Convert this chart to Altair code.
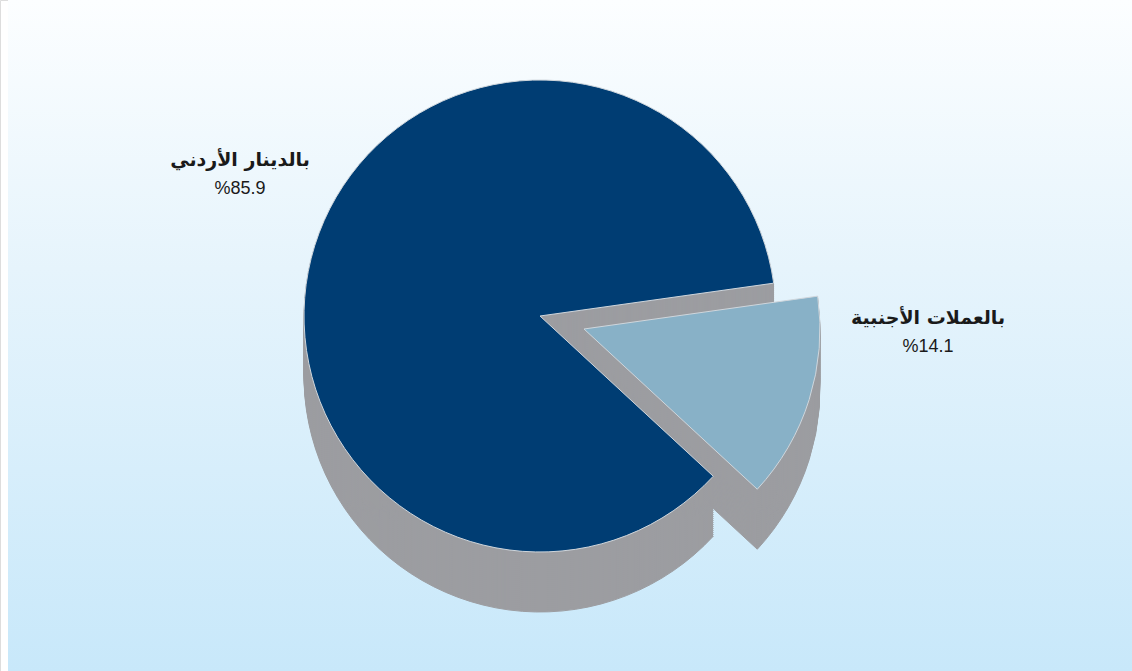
import math
import altair as alt
import pandas as pd

# ---- data ----
categories = ["بالعملات الأجنبية", "بالدينار الأردني"]
shares = [14.1, 85.9]
order = [0, 1]
labels_pct = ["%14.1", "%85.9"]

df = pd.DataFrame({"cat": categories, "value": shares, "ord": order})

W, H = 1132, 671
CX, CY = 540, 316
R = 236
DEPTH = 60
A0 = math.radians(82)
EXPLODE = (44, 13)

TOP_COLORS = {categories[0]: "#88b1c7", categories[1]: "#003d73"}
SIDE = "#9c9da1"

theta_scale = alt.Scale(domain=[0, 100], range=[A0, A0 + 2 * math.pi])

base = (
    alt.Chart(df)
    .transform_window(cum="sum(value)", sort=[{"field": "ord"}])
    .transform_calculate(start="datum.cum - datum.value")
)


def slice_layer(cat, cx, cy, fill, stroke=None, sw=0):
    kw = dict(fill=fill, outerRadius=R)
    if stroke:
        kw.update(stroke=stroke, strokeWidth=sw)
    else:
        kw.update(stroke=fill, strokeWidth=1)
    return (
        base.transform_filter(alt.datum.cat == cat)
        .mark_arc(**kw)
        .encode(
            theta=alt.Theta("start:Q", scale=theta_scale),
            theta2="cum:Q",
            x=alt.value(cx),
            y=alt.value(cy),
        )
    )


layers = []

bg = (
    alt.Chart(pd.DataFrame({"a": [0]}))
    .mark_rect(
        fill=alt.Gradient(
            gradient="linear",
            stops=[
                alt.GradientStop(color="#fcfeff", offset=0),
                alt.GradientStop(color="#e6f4fc", offset=0.4),
                alt.GradientStop(color="#c8e8fa", offset=1),
            ],
            x1=0, x2=0, y1=0, y2=1,
        )
    )
    .encode(x=alt.value(8), x2=alt.value(W), y=alt.value(0), y2=alt.value(H))
)
layers.append(bg)

centers = {
    categories[1]: (CX, CY),
    categories[0]: (CX + EXPLODE[0], CY + EXPLODE[1]),
}

# side walls (stacked discs)
for d in range(DEPTH, 0, -2):
    for cat in [categories[1], categories[0]]:
        cx, cy = centers[cat]
        layers.append(slice_layer(cat, cx, cy + d, SIDE))

# top faces
for cat in [categories[1], categories[0]]:
    cx, cy = centers[cat]
    layers.append(slice_layer(cat, cx, cy, TOP_COLORS[cat], stroke="#cfd6dc", sw=1))

# labels
label_pos = {categories[1]: (240, 160), categories[0]: (928, 318)}
for cat, pct in zip(categories, labels_pct):
    lx, ly = label_pos[cat]
    t1 = (
        alt.Chart(pd.DataFrame({"t": [cat]}))
        .mark_text(font="DejaVu Sans", fontSize=19, fontWeight="bold", color="#1a1a1a")
        .encode(text="t:N", x=alt.value(lx), y=alt.value(ly))
    )
    t2 = (
        alt.Chart(pd.DataFrame({"t": [pct]}))
        .mark_text(font="Liberation Sans", fontSize=18, color="#1a1a1a")
        .encode(text="t:N", x=alt.value(lx), y=alt.value(ly + 29))
    )
    layers += [t1, t2]

chart = (
    alt.layer(*layers)
    .properties(width=W, height=H, autosize=alt.AutoSizeParams(type="none"), padding=0)
    .configure_view(stroke=None)
    .configure(background="white")
)

chart.save("out.html", embed_options={"renderer": "svg", "actions": False})
